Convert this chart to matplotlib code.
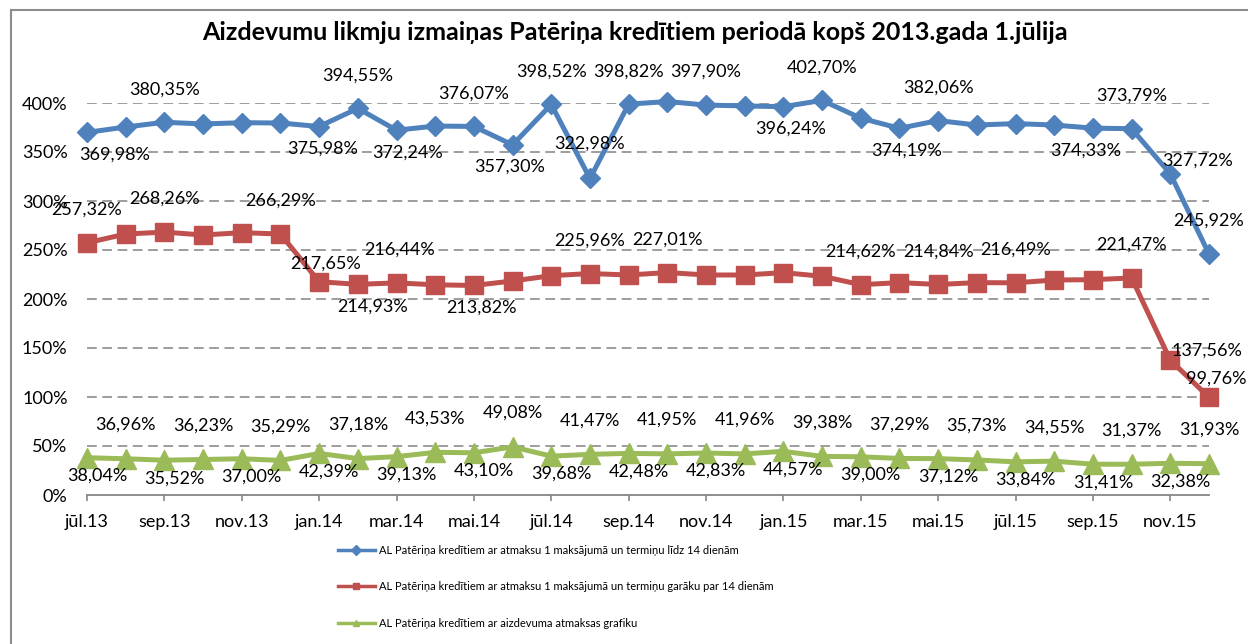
import matplotlib

matplotlib.use("Agg")
import matplotlib.pyplot as plt
from matplotlib.lines import Line2D

plt.rcParams["font.family"] = ["Lato", "DejaVu Sans"]
plt.rcParams["lines.scale_dashes"] = False

# monthly points jul.2013 .. dec.2015
months = ["jūl.13", "aug.13", "sep.13", "okt.13", "nov.13", "dec.13",
          "jan.14", "feb.14", "mar.14", "apr.14", "mai.14", "jūn.14",
          "jūl.14", "aug.14", "sep.14", "okt.14", "nov.14", "dec.14",
          "jan.15", "feb.15", "mar.15", "apr.15", "mai.15", "jūn.15",
          "jūl.15", "aug.15", "sep.15", "okt.15", "nov.15", "dec.15"]

short_term = [369.98, 375.5, 380.35, 378.6, 379.9, 379.6, 375.98, 394.55, 372.24, 376.5,
              376.07, 357.30, 398.52, 322.98, 398.82, 401.5, 397.90, 397.0, 396.24, 402.70,
              384.5, 374.19, 382.06, 377.5, 379.0, 377.5, 374.33, 373.79, 327.72, 245.92]
long_term = [257.32, 266.3, 268.26, 265.3, 267.7, 266.29, 217.65, 214.93, 216.44, 214.5,
             213.82, 218.4, 223.8, 225.96, 224.5, 227.01, 224.5, 224.5, 226.9, 223.2,
             214.62, 216.7, 214.84, 216.7, 216.49, 219.4, 219.7, 221.47, 137.56, 99.76]
schedule = [38.04, 36.96, 35.52, 36.23, 37.00, 35.29, 42.39, 37.18, 39.13, 43.53,
            43.10, 49.08, 39.68, 41.47, 42.48, 41.95, 42.83, 41.96, 44.57, 39.38,
            39.00, 37.29, 37.12, 35.73, 33.84, 34.55, 31.41, 31.37, 32.38, 31.93]

series_names = [
    "AL Patēriņa kredītiem ar atmaksu 1 maksājumā un termiņu līdz 14 dienām",
    "AL Patēriņa kredītiem ar atmaksu 1 maksājumā un termiņu garāku par 14 dienām",
    "AL Patēriņa kredītiem ar aizdevuma atmaksas grafiku",
]
title = "Aizdevumu likmju izmaiņas Patēriņa kredītiem periodā kopš 2013.gada 1.jūlija"

# which points carry a label, and where (offset in pixels: dx, dy up)
UP, DOWN = 33, -22
short_lbl = {0: (28, DOWN), 2: (0, UP), 6: (3, DOWN), 7: (0, UP), 8: (11, DOWN),
             10: (0, UP), 11: (-3, DOWN), 12: (0, UP), 13: (0, 35), 14: (0, UP),
             16: (0, UP), 18: (7, DOWN), 19: (0, UP), 21: (7, DOWN), 22: (0, UP),
             26: (-7, DOWN), 27: (0, UP), 28: (27, 13), 29: (0, UP)}
long_lbl = {0: (0, UP), 2: (0, UP), 5: (0, UP), 6: (6, 18), 7: (15, DOWN), 8: (3, UP),
            10: (8, DOWN), 13: (0, UP), 15: (0, UP), 20: (0, UP), 22: (0, UP),
            24: (0, UP), 27: (0, UP), 28: (37, 10), 29: (7, 19)}
sched_lbl = {i: ((0, 34) if i % 2 else (10, -18)) for i in range(len(schedule))}

BLUE, RED, GREEN = "#4F81BD", "#C0504D", "#9BBB59"
W, H = 1248, 644
PX = 72 / 100

fig = plt.figure(figsize=(W / 100, H / 100), dpi=100)
ax = fig.add_axes([87 / W, 1 - 495 / H, (1209 - 87) / W, (495 - 103) / H])

x = list(range(len(months)))
styles = [(short_term, BLUE, "D", 10.5, short_lbl),
          (long_term, RED, "s", 13, long_lbl),
          (schedule, GREEN, "^", 14, sched_lbl)]
handles = []
for (vals, col, mk, ms, lbl), name in zip(styles, series_names):
    ax.plot(x, vals, color=col, lw=3.6, marker=mk, ms=ms, mec=col, mfc=col,
            clip_on=False, zorder=3)
    handles.append(Line2D([], [], color=col, lw=2.5, marker=mk, ms=5, mec=col, mfc=col))
    for i, (dx, dy) in lbl.items():
        txt = f"{vals[i]:.2f}".replace(".", ",") + "%"
        ax.annotate(txt, (i, vals[i]), xytext=(dx * PX, dy * PX), textcoords="offset points",
                    ha="center", va="center", fontsize=13, color="black", zorder=4,
                    annotation_clip=False)

ax.set_xlim(0, 29)
ax.set_ylim(0, 400)
ax.set_yticks(range(0, 401, 50))
ax.set_yticklabels([f"{v}%" for v in range(0, 401, 50)])
ax.set_xticks(x[::2])
ax.set_xticklabels(months[::2])
ax.tick_params(axis="y", length=0, pad=14, labelsize=13)
ax.tick_params(axis="x", length=4.5, width=1.2, color="#868686", pad=9, labelsize=13)
for s in ["top", "right", "left"]:
    ax.spines[s].set_visible(False)
ax.spines["bottom"].set_color("#868686")
ax.spines["bottom"].set_linewidth(1.3)
for v in range(50, 401, 50):
    ax.axhline(v, color="#8C8C8C", lw=1.2, ls=(0, (7, 4)), zorder=1)

fig.text(635 / W, 1 - 33 / H, title, ha="center", va="center", fontsize=18,
         fontweight="bold")

fig.legend(handles, series_names, loc="upper left", bbox_to_anchor=(332 / W, 1 - 539 / H),
           frameon=False, fontsize=8, handlelength=3.4, handletextpad=0.3,
           labelspacing=2.3, borderpad=0)

# chart area border (only top and left visible in the crop)
fig.add_artist(Line2D([11 / W, 1], [1 - 10 / H, 1 - 10 / H], color="#8C8C8C", lw=1.5))
fig.add_artist(Line2D([11 / W, 11 / W], [0, 1 - 10 / H], color="#8C8C8C", lw=1.5))

fig.savefig("out.png", dpi=100)
